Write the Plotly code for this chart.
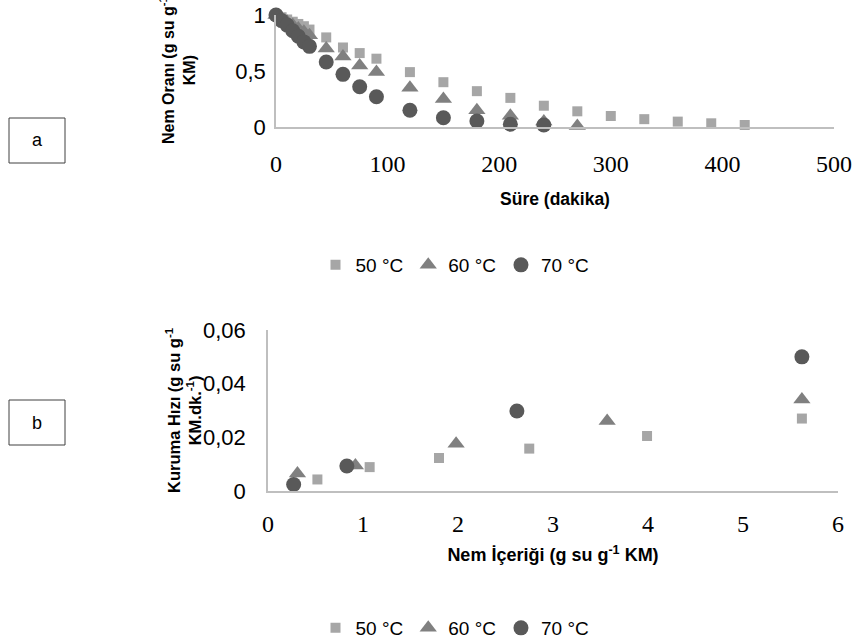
import plotly.graph_objects as go

# ---- Panel a: moisture ratio vs time ----
t50 = [0, 5, 10, 15, 20, 25, 30, 45, 60, 75, 90, 120, 150, 180, 210, 240, 270, 300, 330, 360, 390, 420]
mr50 = [1.0, 0.98, 0.96, 0.94, 0.92, 0.90, 0.87, 0.80, 0.71, 0.66, 0.61, 0.49, 0.40, 0.32, 0.26, 0.19, 0.14, 0.098, 0.07, 0.048, 0.033, 0.018]
t60 = [0, 5, 10, 15, 20, 25, 30, 45, 60, 75, 90, 120, 150, 180, 210, 240, 270]
mr60 = [1.0, 0.97, 0.94, 0.91, 0.88, 0.85, 0.82, 0.70, 0.63, 0.55, 0.49, 0.35, 0.25, 0.15, 0.10, 0.05, 0.01]
t70 = [0, 5, 10, 15, 20, 25, 30, 45, 60, 75, 90, 120, 150, 180, 210, 240]
mr70 = [1.0, 0.95, 0.91, 0.86, 0.81, 0.76, 0.72, 0.58, 0.47, 0.36, 0.27, 0.15, 0.083, 0.054, 0.024, 0.018]

# ---- Panel b: drying rate vs moisture content ----
mc50 = [0.52, 1.07, 1.80, 2.75, 3.99, 5.62]
dr50 = [0.0043, 0.0089, 0.0123, 0.0158, 0.0205, 0.027]
mc60 = [0.31, 0.92, 1.98, 3.57, 5.62]
dr60 = [0.0065, 0.0095, 0.0176, 0.0261, 0.0341]
mc70 = [0.27, 0.83, 2.62, 5.62]
dr70 = [0.0024, 0.0093, 0.0298, 0.050]

series_names = ["50 °C", "60 °C", "70 °C"]
colors = ["#a6a6a6", "#808080", "#595959"]
symbols = ["square", "triangle-up", "circle"]
sizes = [10, 15, 15]

W, H = 856, 639
def px(x):
    return x / W
def py(y):
    return 1 - y / H

fig = go.Figure()
top = [(t50, mr50), (t60, mr60), (t70, mr70)]
bot = [(mc50, dr50), (mc60, dr60), (mc70, dr70)]
for i in range(3):
    fig.add_trace(go.Scatter(
        x=top[i][0], y=top[i][1], mode="markers", name=series_names[i],
        marker=dict(symbol=symbols[i], color=colors[i], size=sizes[i], line=dict(width=0)),
        xaxis="x", yaxis="y", legend="legend", cliponaxis=False))
for i in range(3):
    fig.add_trace(go.Scatter(
        x=bot[i][0], y=bot[i][1], mode="markers", name=series_names[i],
        marker=dict(symbol=symbols[i], color=colors[i], size=sizes[i], line=dict(width=0)),
        xaxis="x2", yaxis="y2", legend="legend2", cliponaxis=False))

SANS = "Liberation Sans, Arial, sans-serif"
serif = dict(family="Liberation Serif, Times New Roman, serif", size=24, color="#000000")
sans = dict(family=SANS, size=22, color="#000000")
axcol = "#bfbfbf"

legend_common = dict(orientation="h", xref="container", yref="container",
                     xanchor="center", yanchor="middle",
                     font=dict(family=SANS, size=19, color="#000"),
                     itemwidth=30, tracegroupgap=0, bgcolor="rgba(0,0,0,0)")

fig.update_layout(
    width=W, height=H,
    margin=dict(l=0, r=0, t=0, b=0, autoexpand=False),
    paper_bgcolor="white", plot_bgcolor="white",
    xaxis=dict(domain=[px(276), px(834)], anchor="y", range=[0, 500], tickvals=[0, 100, 200, 300, 400, 500],
               showgrid=False, zeroline=False, showline=True, linecolor=axcol, linewidth=1.5,
               ticks="", tickfont=serif, ticklabelstandoff=14, automargin=False,
               title=dict(text="<b>Süre (dakika)</b>", font=dict(family=SANS, size=17.5, color="#000"), standoff=17)),
    yaxis=dict(domain=[py(127), py(15)], anchor="x", range=[0, 1], tickvals=[0, 0.5, 1], ticktext=["0", "0,5", "1"],
               showgrid=False, zeroline=False, showline=True, linecolor=axcol, linewidth=1.5,
               ticks="", tickfont=sans, ticklabelstandoff=4, automargin=False),
    xaxis2=dict(domain=[px(268), px(838)], anchor="y2", range=[0, 6], tickvals=[0, 1, 2, 3, 4, 5, 6],
                showgrid=False, zeroline=False, showline=True, linecolor=axcol, linewidth=1.5,
                ticks="", tickfont=serif, ticklabelstandoff=10, automargin=False,
                title=dict(text="<b>Nem İçeriği (g su g<sup>-1</sup> KM)</b>",
                           font=dict(family=SANS, size=18, color="#000"), standoff=13)),
    yaxis2=dict(domain=[py(491), py(330)], anchor="x2", range=[0, 0.06], tickvals=[0, 0.02, 0.04, 0.06],
                ticktext=["0", "0,02", "0,04", "0,06"],
                showgrid=False, zeroline=False, showline=True, linecolor=axcol, linewidth=1.5,
                ticks="", tickfont=sans, ticklabelstandoff=16, automargin=False),
    legend=dict(legend_common, x=px(455), y=py(265)),
    legend2=dict(legend_common, x=px(455), y=py(628)),
    showlegend=True,
)

title_font = dict(family=SANS, size=16, color="#000")
fig.add_annotation(text="<b>Nem Oranı (g su g<sup>-1</sup><br>KM)</b>", xref="paper", yref="paper",
                   x=px(177), y=py(70), textangle=-90, showarrow=False, font=title_font,
                   xanchor="center", yanchor="middle")
fig.add_annotation(text="<b>Kuruma Hızı (g su g<sup>-1</sup><br>KM.dk.<sup>-1</sup>)</b>", xref="paper", yref="paper",
                   x=px(183), y=py(410), textangle=-90, showarrow=False,
                   font=dict(family=SANS, size=16.5, color="#000"),
                   xanchor="center", yanchor="middle")

# panel labels
for lab, y0, y1 in [("a", 118, 163), ("b", 400, 445)]:
    fig.add_shape(type="rect", xref="paper", yref="paper", x0=px(9), x1=px(65), y0=py(y1), y1=py(y0),
                  line=dict(color="#404040", width=1))
    fig.add_annotation(text=lab, xref="paper", yref="paper", x=px(37), y=py((y0 + y1) / 2),
                       showarrow=False, font=dict(family=SANS, size=18, color="#000"),
                       xanchor="center", yanchor="middle")

fig.write_html("out.html", config={"displayModeBar": False},
               post_script="document.body.style.margin='0';document.body.style.padding='0';")
